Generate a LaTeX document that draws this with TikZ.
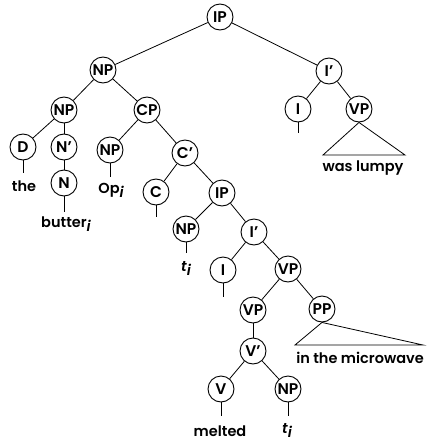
\documentclass[tikz,border=0pt]{standalone}
\usepackage{fontspec}
\setmainfont{Poppins}[UprightFont={* SemiBold},ItalicFont={* SemiBold Italic}]
\begin{document}
\begin{tikzpicture}[x=1pt,y=-1pt,
  every node/.style={font=\fontsize{14.5}{16}\selectfont},
  cat/.style={circle,draw,line width=0.9pt,minimum size=26pt,inner sep=0pt,
    font=\fontsize{15.5}{16}\selectfont},
  word/.style={inner sep=0pt,anchor=center},
  edge/.style={line width=0.8pt}]
\useasboundingbox (0,0) rectangle (427,442);
% internal nodes
\node[cat] (IPa) at (220,17) {IP};
\node[cat] (NPa) at (103,70) {NP};
\node[cat] (Iba) at (329,71) {I'};
\node[cat] (NPb) at (64,110) {NP};
\node[cat] (CP) at (147,110) {CP};
\node[cat] (Ia) at (298,109) {I};
\node[cat] (VPa) at (359,109) {VP};
\node[cat] (D) at (23,147) {D};
\node[cat] (Nb) at (64,147) {N'};
\node[cat] (NPop) at (110,150) {NP};
\node[cat] (Cb) at (185,153) {C'};
\node[cat] (N) at (64,183) {N};
\node[cat] (C) at (156,192) {C};
\node[cat] (IPb) at (222,193) {IP};
\node[cat] (NPt) at (186,229) {NP};
\node[cat] (Ibb) at (254,232) {I'};
\node[cat] (Ib) at (223,270) {I};
\node[cat] (VPb) at (288,269) {VP};
\node[cat] (VPc) at (253,310) {VP};
\node[cat] (PP) at (322,309) {PP};
\node[cat] (Vb) at (253,351) {V'};
\node[cat] (V) at (221,389) {V};
\node[cat] (NPu) at (288,389) {NP};
% edges
\draw[edge] (IPa) -- (NPa);
\draw[edge] (IPa) -- (Iba);
\draw[edge] (NPa) -- (NPb);
\draw[edge] (NPa) -- (CP);
\draw[edge] (Iba) -- (Ia);
\draw[edge] (Iba) -- (VPa);
\draw[edge] (NPb) -- (D);
\draw[edge] (NPb) -- (Nb);
\draw[edge] (CP) -- (NPop);
\draw[edge] (CP) -- (Cb);
\draw[edge] (Nb) -- (N);
\draw[edge] (Cb) -- (C);
\draw[edge] (Cb) -- (IPb);
\draw[edge] (IPb) -- (NPt);
\draw[edge] (IPb) -- (Ibb);
\draw[edge] (Ibb) -- (Ib);
\draw[edge] (Ibb) -- (VPb);
\draw[edge] (VPb) -- (VPc);
\draw[edge] (VPb) -- (PP);
\draw[edge] (VPc) -- (Vb);
\draw[edge] (Vb) -- (V);
\draw[edge] (Vb) -- (NPu);
% leaf stems
\coordinate (eD) at (23,173);
\coordinate (eOp) at (110,177);
\coordinate (eN) at (64,212);
\coordinate (eC) at (156,217);
\coordinate (eNPt) at (186,253);
\coordinate (eIb) at (223,297);
\coordinate (eIa) at (298,133);
\coordinate (eV) at (221,416);
\coordinate (eNPu) at (288,416);
\draw[edge] (D) -- (eD);
\draw[edge] (NPop) -- (eOp);
\draw[edge] (N) -- (eN);
\draw[edge] (C) -- (eC);
\draw[edge] (NPt) -- (eNPt);
\draw[edge] (Ib) -- (eIb);
\draw[edge] (Ia) -- (eIa);
\draw[edge] (V) -- (eV);
\draw[edge] (NPu) -- (eNPu);
% triangles
\coordinate (ta1) at (323,155);
\coordinate (ta2) at (405,155);
\draw[edge] (VPa.south) -- (ta1) -- (ta2) -- cycle;
\coordinate (tb1) at (295,345);
\coordinate (tb2) at (423,345);
\draw[edge] (PP.south) -- (tb1) -- (tb2) -- cycle;
% words
\node[word] (wthe) at (24,186) {the};
\node[word] (wop) at (111,190) {Op\raisebox{-0.5ex}{\itshape i}};
\node[word] (wbut) at (66,224) {butter\raisebox{-0.5ex}{\itshape i}};
\node[word] (wt1) at (186,268) {\itshape t\raisebox{-0.5ex}{i}};
\node[word] (wlumpy) at (363,168) {was lumpy};
\node[word] (wmicro) at (360,358) {in the microwave};
\node[word] (wmelt) at (220,431) {melted};
\node[word] (wt2) at (287,430) {\itshape t\raisebox{-0.5ex}{i}};
\end{tikzpicture}
\end{document}
